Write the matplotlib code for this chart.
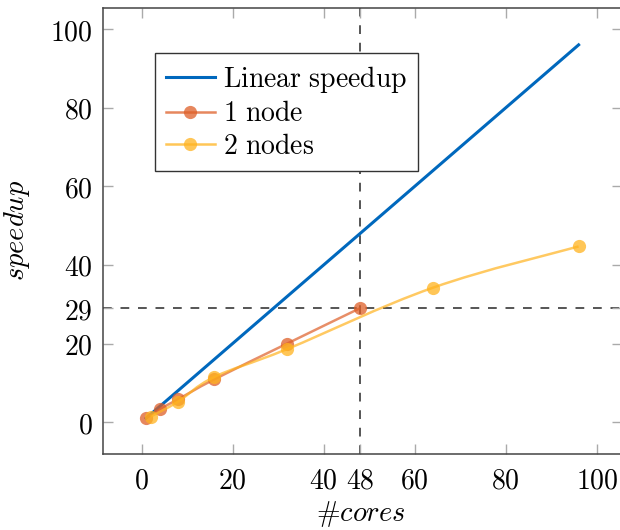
import matplotlib
matplotlib.use("Agg")
import matplotlib.pyplot as plt
from matplotlib.path import Path
from matplotlib.patches import PathPatch
from matplotlib.lines import Line2D
import numpy as np

plt.rcParams["mathtext.fontset"] = "cm"

# Speedup measurements
linear_cores = [1, 96]
linear_speedup = [1, 96]

one_node_cores = [1, 4, 8, 16, 32, 48]
one_node_speedup = [1.0, 3.3, 5.8, 10.9, 20.0, 29.0]

two_nodes_cores = [2, 8, 16, 32, 64, 96]
two_nodes_speedup = [1.4, 5.2, 11.5, 18.6, 34.2, 44.7]

ref_cores = 48
ref_speedup = 29

xticks = [0, 20, 40, 48, 60, 80, 100]
yticks = [0, 20, 29, 40, 60, 80, 100]

BLUE = "#0068BD"
ORANGE = "#DE5F28"
YELLOW = "#FFB31F"
GRID = "#555555"


def smooth_path(xs, ys, tension=0.55):
    """Cubic Bezier path through the points, in the style of TikZ 'smooth'."""
    pts = np.column_stack([xs, ys]).astype(float)
    n = len(pts)
    verts = [pts[0]]
    codes = [Path.MOVETO]
    k = tension / 3.0
    for i in range(n - 1):
        p0 = pts[i - 1] if i > 0 else pts[i]
        p1 = pts[i]
        p2 = pts[i + 1]
        p3 = pts[i + 2] if i + 2 < n else pts[i + 1]
        c1 = p1 + (p2 - p0) * k
        c2 = p2 - (p3 - p1) * k
        verts += [c1, c2, p2]
        codes += [Path.CURVE4] * 3
    return Path(verts, codes)


fig = plt.figure(figsize=(6.2, 5.3), dpi=100)
ax = fig.add_axes([0.166, 0.1428, 0.837, 0.8415])

ax.set_xlim(-8.5, 105.5)
ax.set_ylim(-8.2, 105.3)

# reference lines at 48 cores / speedup 29
ax.axvline(ref_cores, color=GRID, lw=1.4, ls=(0, (4.5, 4.5)), zorder=1)
ax.axhline(ref_speedup, color=GRID, lw=1.4, ls=(0, (4.5, 4.5)), zorder=1)

ax.plot(linear_cores, linear_speedup, color=BLUE, lw=2.2, zorder=2)

lw_series = 1.8
ms = 9.5
for xs, ys, col, z in [(one_node_cores, one_node_speedup, ORANGE, 3),
                       (two_nodes_cores, two_nodes_speedup, YELLOW, 4)]:
    ax.add_patch(PathPatch(smooth_path(xs, ys), facecolor="none",
                           edgecolor=col, lw=lw_series, alpha=0.7, zorder=z))
    ax.plot(xs, ys, ls="none", marker="o", ms=ms, mfc=col, mec="none",
            alpha=0.75, zorder=z)

ax.set_xticks(xticks)
ax.set_xticklabels([f"${t}$" for t in xticks])
ax.set_yticks(yticks)
ax.set_yticklabels([f"${t}$" for t in yticks])
ax.tick_params(direction="in", length=7, width=1, color="#aaaaaa",
               top=True, right=True, labelsize=20)
ax.tick_params(axis="x", pad=9)
ax.tick_params(axis="y", pad=7.5)

for sp in ax.spines.values():
    sp.set_color("#444444")
    sp.set_linewidth(1.1)

ax.set_xlabel("#$cores$", fontsize=20.5, fontfamily="cmr10")
ax.set_ylabel(r"$speedup$", fontsize=20.5)
ax.xaxis.set_label_coords(0.498, -0.1)
ax.yaxis.set_label_coords(-0.137, 0.503)

handles = [
    Line2D([], [], color=BLUE, lw=2.2),
    Line2D([], [], color=ORANGE, lw=lw_series, marker="o", ms=ms,
           mec="none", alpha=0.75),
    Line2D([], [], color=YELLOW, lw=lw_series, marker="o", ms=ms,
           mec="none", alpha=0.75),
]
labels = [r"$\mathrm{Linear\ speedup}$", r"$\mathrm{1\ node}$",
          r"$\mathrm{2\ nodes}$"]
leg = ax.legend(handles, labels, loc="upper left",
                bbox_to_anchor=(0.100, 0.900), borderaxespad=0,
                fontsize=20, handlelength=1.75, handletextpad=0.3,
                labelspacing=0.16, borderpad=0.4, numpoints=1,
                fancybox=False, framealpha=1, edgecolor="#333333")
leg.get_frame().set_linewidth(1.0)
leg.set_zorder(10)

fig.savefig("out.png", dpi=100)
